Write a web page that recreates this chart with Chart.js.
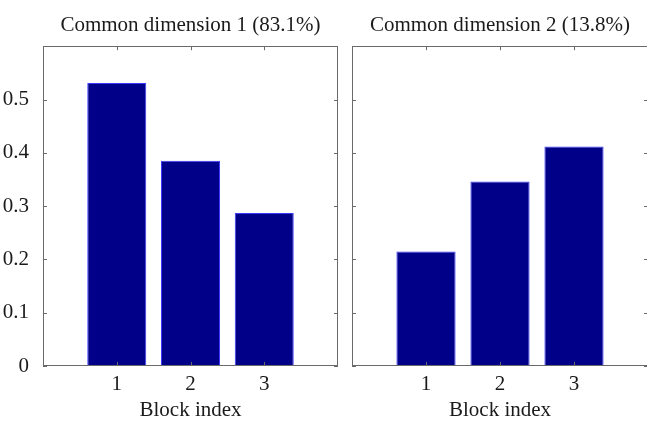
<!DOCTYPE html>
<html>
<head>
<meta charset="utf-8">
<script src="https://cdn.jsdelivr.net/npm/chart.js@4"></script>
<style>
  html, body { margin: 0; padding: 0; background: #fff; overflow: hidden; }
  #wrap { position: relative; width: 647px; height: 421px; }
  canvas { position: absolute; top: 0; }
  #chartLeft { left: 0; }
  #chartRight { left: 345px; }
</style>
</head>
<body>
<div id="wrap">
  <canvas id="chartLeft" width="345" height="421"></canvas>
  <canvas id="chartRight" width="303" height="421"></canvas>
</div>
<script>
// values
const blocks = [1, 2, 3];
const dim1Values = [0.531, 0.385, 0.287];
const dim2Values = [0.215, 0.346, 0.412];
const panelTitles = ['Common dimension 1 (83.1%)', 'Common dimension 2 (13.8%)'];
const yTickLabels = ['0', '0.1', '0.2', '0.3', '0.4', '0.5'];
const xAxisTitle = 'Block index';

const serif = "'Liberation Serif', 'DejaVu Serif', serif";

// matlab style box with inward tick marks
const boxTicks = {
  id: 'boxTicks',
  afterDatasetsDraw(chart) {
    const ctx = chart.ctx;
    const a = chart.chartArea;
    const xs = chart.scales.x, ys = chart.scales.y;
    const len = 4;
    ctx.save();
    ctx.strokeStyle = '#6a6a6a';
    ctx.lineWidth = 1;
    ctx.beginPath();
    blocks.forEach(function(b) {
      const px = Math.round(xs.getPixelForValue(b)) + 0.5;
      ctx.moveTo(px, a.top); ctx.lineTo(px, a.top + len);
      ctx.moveTo(px, a.bottom); ctx.lineTo(px, a.bottom - len);
    });
    yTickLabels.forEach(function(t) {
      const py = Math.round(ys.getPixelForValue(parseFloat(t))) + 0.5;
      ctx.moveTo(a.left, py); ctx.lineTo(a.left + len, py);
      ctx.moveTo(a.right, py); ctx.lineTo(a.right - len, py);
    });
    ctx.stroke();
    ctx.strokeRect(Math.round(a.left) + 0.5, Math.round(a.top) + 0.5,
                   Math.round(a.right - a.left) - 1, Math.round(a.bottom - a.top) - 1);
    ctx.restore();
  }
};

function make_panel(canvasId, values, title, showYLabels, yWidth, padRight) {
  return new Chart(document.getElementById(canvasId), {
    type: 'bar',
    data: {
      datasets: [{
        data: blocks.map(function(b, i) { return {x: b, y: values[i]}; }),
        backgroundColor: '#000088',
        borderColor: '#3a3aff',
        borderWidth: 1,
        borderSkipped: 'bottom',
        categoryPercentage: 0.8,
        barPercentage: 1.0
      }]
    },
    options: {
      responsive: false,
      animation: false,
      layout: { padding: { left: 0, right: padRight, top: 0, bottom: 0 } },
      scales: {
        x: {
          type: 'linear',
          min: 0,
          max: 4,
          offset: false,
          grid: { display: false },
          border: { display: false },
          ticks: {
            stepSize: 1,
            padding: 0,
            color: '#1a1a1a',
            font: { family: serif, size: 21, lineHeight: 1.0 },
            maxRotation: 0,
            callback: function(v) { return blocks.indexOf(v) >= 0 ? String(v) : ''; }
          },
          title: {
            display: true,
            text: xAxisTitle,
            color: '#1a1a1a',
            font: { family: serif, size: 21, lineHeight: 1.0 },
            padding: { top: 0, bottom: 0 }
          },
          afterFit: function(s) {
            s.height = 55;
            s.paddingLeft = 0;
            s.paddingRight = 0;
          }
        },
        y: {
          min: 0,
          max: 0.6,
          grid: { display: false },
          border: { display: false },
          ticks: {
            display: showYLabels,
            stepSize: 0.1,
            padding: 6,
            color: '#1a1a1a',
            font: { family: serif, size: 21 },
            callback: function(v) {
              const t = String(Math.round(v * 10) / 10);
              return yTickLabels.indexOf(t) >= 0 ? t : '';
            }
          },
          afterFit: function(s) { s.width = yWidth; }
        }
      },
      plugins: {
        legend: { display: false },
        tooltip: { enabled: false },
        title: {
          display: true,
          text: title,
          fullSize: false,
          color: '#1a1a1a',
          font: { family: serif, size: 21, weight: 'normal', lineHeight: 1.2 },
          padding: { top: 13, bottom: 8 }
        }
      }
    },
    plugins: [boxTicks]
  });
}

make_panel('chartLeft', dim1Values, panelTitles[0], true, 43, 7);
make_panel('chartRight', dim2Values, panelTitles[1], false, 7, 0);
</script>
</body>
</html>
